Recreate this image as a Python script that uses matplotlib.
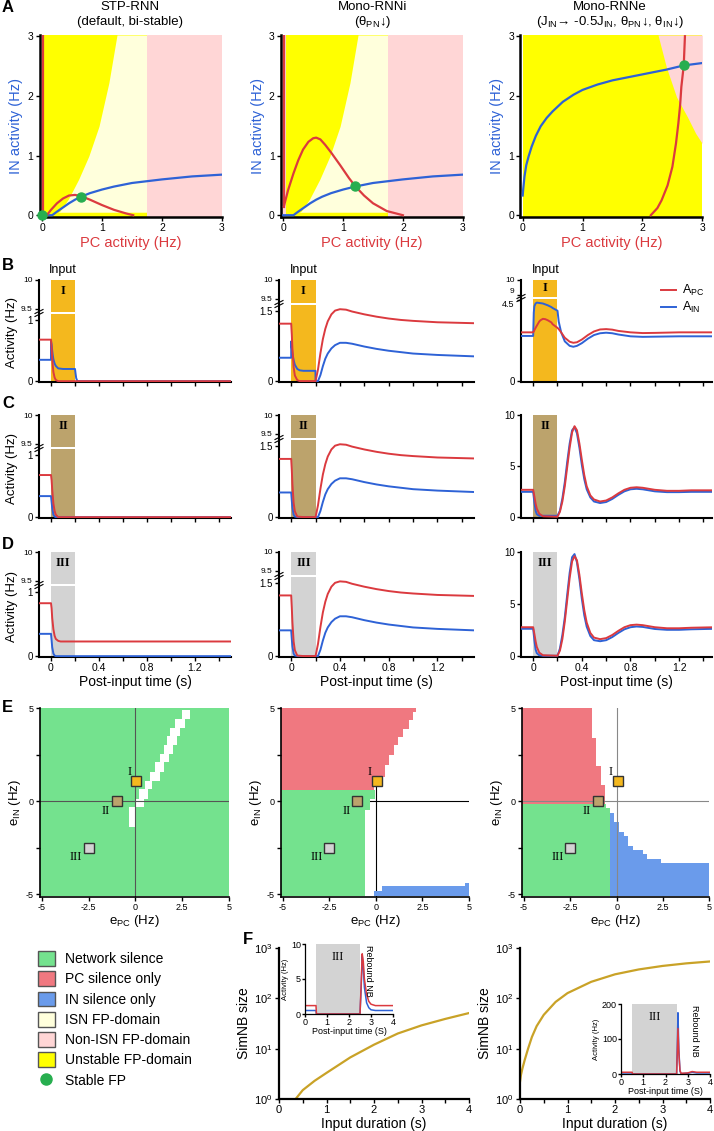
import numpy as np
import matplotlib
matplotlib.use('Agg')
import matplotlib.pyplot as plt
from matplotlib.patches import Patch
from matplotlib.lines import Line2D
import matplotlib.transforms as mtransforms
from matplotlib.ticker import NullLocator, FixedLocator

plt.rcParams['font.family'] = ['Liberation Sans', 'DejaVu Sans']
plt.rcParams['axes.unicode_minus'] = False
plt.rcParams['mathtext.fontset'] = 'custom'
plt.rcParams['mathtext.rm'] = 'Liberation Sans'
plt.rcParams['mathtext.it'] = 'Liberation Sans:italic'
plt.rcParams['mathtext.bf'] = 'Liberation Sans:bold'

# ---------------- colours ----------------
RED = '#DB3A3F'
BLUE = '#2E62D6'
DOT = '#27AE4F'
YELLOW = '#FFFF00'
LIGHT_Y = '#FFFFDC'
PINK = '#FFD6D6'
NET_SIL = '#74E28E'
PC_SIL = '#F07880'
IN_SIL = '#6A9BEB'
BAR_COLORS = ['#F4B81E', '#BCA36C', '#D3D3D3']
GOLD = '#C9A227'

# ---------------- data: panel A ----------------
titles_1 = ['STP-RNN', 'Mono-RNNi', 'Mono-RNNe']
titles_2 = ['(default, bi-stable)', '(θ$_{\\mathrm{PN}}$↓)',
            '(J$_{\\mathrm{IN}}$→ -0.5J$_{\\mathrm{IN}}$, θ$_{\\mathrm{PN}}$↓, θ$_{\\mathrm{IN}}$↓)']

# domain boundaries (columns 1 and 2)
unstable_bd_y = [0.05, 0.07, 0.27, 0.6, 0.99, 1.49, 2.22, 3.02]
unstable_bd_x = [0.27, 0.3, 0.44, 0.61, 0.78, 0.95, 1.115, 1.25]
isn_x_max = 1.745
strip_x = 0.04
# column 3 non-ISN boundary
nonisn3_bd_y = [3.02, 2.48, 1.98, 1.65, 1.37, 1.2]
nonisn3_bd_x = [2.26, 2.4, 2.57, 2.75, 2.89, 3.0]

# IN nullcline (cols 1,2)
in_null_x = [0.0, 0.17, 0.25, 0.35, 0.45, 0.55, 0.65, 0.8, 1.0, 1.2, 1.5, 2.0, 2.5, 3.0]
in_null_y = [0.0, 0.0, 0.06, 0.13, 0.2, 0.26, 0.31, 0.37, 0.43, 0.48, 0.54, 0.6, 0.65, 0.68]
# PC nullclines
a1_pc_x = [0.08, 0.15, 0.25, 0.35, 0.45, 0.55, 0.65, 0.8, 1.0, 1.2, 1.4, 1.52]
a1_pc_y = [0.0, 0.09, 0.2, 0.28, 0.33, 0.34, 0.32, 0.26, 0.17, 0.09, 0.03, 0.0]
a1_pcv_x = [0.02, 0.02]
a1_pcv_y = [0.0, 3.0]
a2_pc_x = [0.01, 0.08, 0.17, 0.25, 0.33, 0.42, 0.5, 0.55, 0.62, 0.7, 0.8, 0.95, 1.1, 1.2, 1.35, 1.5, 1.73, 2.0]
a2_pc_y = [0.15, 0.42, 0.7, 0.92, 1.1, 1.23, 1.29, 1.3, 1.27, 1.18, 1.05, 0.84, 0.62, 0.49, 0.33, 0.2, 0.07, 0.0]
a2_pcv_x = [0.005, 0.005]
a2_pcv_y = [0.13, 3.0]
a3_in_x = [0.0, 0.01, 0.03, 0.06, 0.1, 0.15, 0.22, 0.3, 0.4, 0.5, 0.67, 0.85, 1.0, 1.25, 1.5, 2.0, 2.4, 2.69, 3.0]
a3_in_y = [0.33, 0.45, 0.65, 0.84, 0.99, 1.15, 1.33, 1.49, 1.63, 1.74, 1.9, 2.02, 2.1, 2.19, 2.26, 2.36, 2.44, 2.51, 2.55]
a3_pc_x = [2.14, 2.25, 2.32, 2.42, 2.5, 2.56, 2.6, 2.63, 2.65, 2.69, 2.71]
a3_pc_y = [0.0, 0.12, 0.25, 0.5, 0.81, 1.2, 1.54, 1.85, 2.15, 2.51, 3.0]
fp1_x, fp1_y = [0.0, 0.65], [0.0, 0.31]
fp2_x, fp2_y = [1.2], [0.49]
fp3_x, fp3_y = [2.69], [2.51]

# ---------------- data: panels B-D ----------------
b1_t = [-0.1, 0.0, 0.0, 0.005, 0.01, 0.015, 0.02, 0.03, 0.04, 0.06, 0.1, 0.15, 0.2, 0.205, 0.21, 0.22, 0.3, 1.5]
b1_pc = [0.68, 0.68, 0.68, 0.55, 0.38, 0.25, 0.15, 0.06, 0.02, 0.0, 0, 0, 0, 0, 0, 0, 0, 0]
b1_in = [0.35, 0.35, 0.66, 0.6, 0.5, 0.42, 0.36, 0.29, 0.25, 0.21, 0.2, 0.2, 0.2, 0.12, 0.05, 0.0, 0, 0]
c1_t = [-0.1, 0.0, 0.005, 0.01, 0.02, 0.03, 0.04, 0.06, 1.5]
c1_pc = [0.68, 0.68, 0.6, 0.45, 0.22, 0.1, 0.04, 0.0, 0.0]
c1_in = [0.34, 0.34, 0.25, 0.15, 0.04, 0.01, 0.0, 0.0, 0.0]
d1_t = [-0.1, 0.0, 0.005, 0.01, 0.02, 0.03, 0.04, 0.06, 0.08, 0.1, 1.5]
d1_pc = [0.83, 0.83, 0.75, 0.6, 0.42, 0.32, 0.27, 0.24, 0.23, 0.23, 0.23]
d1_in = [0.35, 0.35, 0.25, 0.14, 0.04, 0.01, 0.0, 0.0, 0.0, 0.0, 0.0]

rebound2_t = [0.2, 0.22, 0.24, 0.26, 0.28, 0.3, 0.33, 0.36, 0.4, 0.45, 0.5, 0.6, 0.7, 0.8, 0.9, 1.0, 1.2, 1.5]
rebound2_pc = [0.0, 0.25, 0.6, 0.9, 1.12, 1.28, 1.43, 1.51, 1.54, 1.53, 1.49, 1.43, 1.38, 1.34, 1.31, 1.29, 1.26, 1.24]
rebound2_in = [0.0, 0.0, 0.13, 0.32, 0.48, 0.59, 0.7, 0.77, 0.82, 0.82, 0.8, 0.74, 0.69, 0.65, 0.62, 0.59, 0.56, 0.53]
b2_t = [-0.1, 0.0, 0.0, 0.005, 0.01, 0.02, 0.03, 0.05, 0.07, 0.1, 0.15, 0.199]
b2_pc = [1.23, 1.23, 1.23, 1.0, 0.7, 0.3, 0.12, 0.02, 0.0, 0.0, 0.0, 0.0]
b2_in = [0.5, 0.5, 0.85, 0.72, 0.6, 0.45, 0.35, 0.26, 0.23, 0.22, 0.22, 0.22]
c2_t = [-0.1, 0.0, 0.005, 0.01, 0.02, 0.03, 0.05, 0.1, 0.199]
c2_pc = [1.23, 1.23, 1.0, 0.7, 0.3, 0.12, 0.01, 0.0, 0.0]
c2_in = [0.52, 0.52, 0.35, 0.2, 0.05, 0.01, 0.0, 0.0, 0.0]
d2_t = [-0.1, 0.0, 0.005, 0.01, 0.02, 0.03, 0.05, 0.1, 0.199]
d2_pc = [1.25, 1.25, 1.0, 0.7, 0.3, 0.12, 0.01, 0.0, 0.0]
d2_in = [0.53, 0.53, 0.35, 0.2, 0.05, 0.01, 0.0, 0.0, 0.0]

b3_t = [-0.1, 0.0, 0.005, 0.01, 0.02, 0.03, 0.05, 0.06, 0.08, 0.1, 0.12, 0.15, 0.16, 0.2, 0.21, 0.23,
        0.26, 0.3, 0.33, 0.36, 0.4, 0.45, 0.5, 0.55, 0.6, 0.65, 0.7, 0.8, 0.9, 1.0, 1.2, 1.5]
b3_pc = [2.7, 2.7, 2.75, 2.82, 2.95, 3.07, 3.3, 3.37, 3.45, 3.43, 3.37, 3.25, 3.15, 2.95, 2.88, 2.7,
         2.4, 2.18, 2.12, 2.15, 2.3, 2.55, 2.75, 2.86, 2.88, 2.85, 2.78, 2.7, 2.66, 2.67, 2.7, 2.7]
b3_in = [2.5, 2.5, 3.8, 4.15, 4.3, 4.35, 4.33, 4.32, 4.3, 4.25, 4.2, 4.1, 4.05, 3.9, 3.3, 2.7,
         2.2, 1.95, 1.9, 1.95, 2.1, 2.35, 2.55, 2.65, 2.68, 2.65, 2.58, 2.48, 2.45, 2.46, 2.48, 2.48]
cd3_t = [-0.1, 0.0, 0.01, 0.02, 0.03, 0.05, 0.08, 0.2, 0.22, 0.24, 0.26, 0.28, 0.3, 0.32, 0.34, 0.36,
         0.38, 0.4, 0.42, 0.44, 0.47, 0.5, 0.55, 0.6, 0.65, 0.7, 0.75, 0.8, 0.85, 0.9, 0.95, 1.0, 1.1,
         1.2, 1.3, 1.5]
c3_pc = [2.65, 2.65, 2.0, 1.3, 0.8, 0.3, 0.05, 0.0, 0.5, 1.5, 3.0, 4.9, 6.8, 8.3, 8.9, 8.5, 7.2, 5.6,
         4.1, 3.0, 2.1, 1.7, 1.5, 1.6, 1.9, 2.3, 2.65, 2.85, 2.9, 2.85, 2.75, 2.65, 2.55, 2.55, 2.6, 2.6]
c3_in = [2.45, 2.45, 1.4, 0.6, 0.25, 0.1, 0.1, 0.1, 0.6, 1.8, 3.4, 5.4, 7.2, 8.5, 8.8, 8.2, 6.8, 5.1,
         3.7, 2.7, 1.9, 1.5, 1.35, 1.45, 1.75, 2.15, 2.5, 2.7, 2.75, 2.7, 2.6, 2.5, 2.42, 2.42, 2.45, 2.45]
d3_pc = [2.75, 2.75, 2.1, 1.4, 0.85, 0.3, 0.05, 0.0, 0.5, 1.6, 3.3, 5.4, 7.5, 9.1, 9.6, 9.2, 7.8, 6.0,
         4.4, 3.2, 2.2, 1.75, 1.6, 1.7, 2.0, 2.4, 2.75, 2.95, 3.0, 2.95, 2.85, 2.75, 2.65, 2.65, 2.7, 2.75]
d3_in = [2.6, 2.6, 1.5, 0.6, 0.25, 0.05, 0.0, 0.0, 0.7, 2.0, 3.7, 5.9, 8.0, 9.5, 9.8, 9.0, 7.4, 5.5,
         3.9, 2.8, 1.9, 1.5, 1.4, 1.5, 1.8, 2.2, 2.55, 2.75, 2.82, 2.78, 2.68, 2.58, 2.5, 2.5, 2.55, 2.6]

input_on, input_off = 0.0, 0.2
roman = ['I', 'II', 'III']

# ---------------- data: panel E ----------------
e1_band_edges = [4.9, 4.45, 3.95, 3.5, 3.0, 2.55, 2.1, 1.55, 1.1, 0.65, 0.1, -0.3, -0.9, -1.4]
e1_band_xlo = [2.5, 2.1, 1.85, 1.7, 1.5, 1.3, 1.05, 0.8, 0.5, 0.2, -0.05, -0.35, -0.35]
e1_band_xhi = [2.9, 2.65, 2.4, 2.2, 2.0, 1.8, 1.5, 1.3, 0.9, 0.67, 0.45, 0.05, 0.0]
e2_red_edges = [5.0, 4.8, 4.36, 3.9, 3.46, 3.0, 2.47, 1.93, 1.3, 0.85, 0.6]
e2_red_xr = [2.17, 2.0, 1.76, 1.44, 1.19, 0.95, 0.7, 0.46, 0.28, -0.08]
e2_green_edges = [0.6, 0.1, -0.5, -5.12]
e2_green_xr = [-0.05, -0.33, -0.6]
e2_blue_edges = [-4.4, -4.57, -4.85, -5.12]
e2_blue_xl = [4.8, 0.3, -0.12]
e3_red_edges = [5.0, 3.38, 1.87, 0.85, -0.14]
e3_red_xr = [-1.35, -1.12, -0.86, -0.63]
e3_green_edges = [-0.14, -0.36, -5.12]
e3_green_xr = [-0.58, -0.36]
e3_blue_xedges = [-0.36, -0.13, 0.14, 0.4, 0.63, 0.9, 1.4, 1.65, 2.4, 5.0]
e3_blue_top = [-0.63, -1.13, -1.64, -1.89, -2.39, -2.62, -2.87, -3.13, -3.33]
pert_x = [0.05, -1.0, -2.5]
pert_y = [1.1, 0.0, -2.5]

# ---------------- data: panel F ----------------
f1_dur = [0.35, 0.5, 0.75, 1.0, 1.5, 2.0, 2.5, 3.0, 3.5, 4.0]
f1_size = [1.0, 1.5, 2.3, 3.3, 6.7, 12, 20, 29, 39, 51]
f2_dur = [0.0, 0.02, 0.05, 0.1, 0.17, 0.25, 0.35, 0.5, 0.75, 1.0, 1.5, 2.0, 2.5, 3.0, 3.5, 4.0]
f2_size = [2.2, 3.0, 4.0, 6.0, 10, 17, 28, 47, 85, 127, 213, 300, 375, 440, 495, 540]
fi1_t = [0, 0.5, 0.52, 2.5, 2.55, 2.6, 2.65, 2.7, 2.8, 2.9, 3.0, 3.2, 4.0]
fi1_pc = [1.2, 1.2, 0.0, 0.0, 4.0, 8.6, 7.5, 5.0, 2.8, 1.8, 1.4, 1.2, 1.2]
fi1_in = [0.5, 0.5, 0.0, 0.0, 3.5, 8.3, 6.5, 3.8, 1.6, 0.9, 0.6, 0.5, 0.5]
fi2_t = [0, 0.5, 0.52, 2.5, 2.53, 2.56, 2.6, 2.65, 2.7, 3.0, 3.2, 3.4, 4.0]
fi2_pc = [5, 5, 0, 0, 60, 130, 60, 10, 2, 3, 7, 5, 5]
fi2_in = [3, 3, 0, 0, 80, 175, 70, 8, 1, 2, 5, 3, 3]
fi_input = (0.5, 2.5)

legend_labels = ['Network silence', 'PC silence only', 'IN silence only', 'ISN FP-domain',
                 'Non-ISN FP-domain', 'Unstable FP-domain', 'Stable FP']
legend_colors = [NET_SIL, PC_SIL, IN_SIL, LIGHT_Y, PINK, YELLOW, DOT]

# ---------------- figure ----------------
W, H = 714, 1131
fig = plt.figure(figsize=(W / 100, H / 100), dpi=100)


def add_ax(l, t, r, b):
    return fig.add_axes([l / W, 1 - b / H, (r - l) / W, (b - t) / H])


def fx(px):
    return px / W


def fy(py):
    return 1 - py / H


def style(ax, lw=1.5, labelsize=7):
    for s in ['top', 'right']:
        ax.spines[s].set_visible(False)
    for s in ['left', 'bottom']:
        ax.spines[s].set_linewidth(lw)
    ax.tick_params(which='both', width=1, length=3, labelsize=labelsize, pad=1.5)


# panel letters
for lab, x, y in [('A', 2, 8), ('B', 2, 265), ('C', 2, 403), ('D', 2, 545), ('E', 2, 708), ('F', 243, 940)]:
    fig.text(fx(x), fy(y), lab, fontsize=12, fontweight='bold', ha='left', va='center')

# ---------------- panel A ----------------
a_cols = [(39.6, 222.0), (280.9, 462.7), (520.3, 702.3)]
a_top, a_bot = 35, 217
title_cx = [130, 373, 610]
for ci in range(3):
    ax = add_ax(a_cols[ci][0], a_top, a_cols[ci][1], a_bot)
    ax.set_xlim(-0.04, 3.0)
    ax.set_ylim(-0.03, 3.02)
    if ci < 2:
        ax.fill_between([strip_x, isn_x_max], -0.03, 3.02, color=YELLOW, lw=0, zorder=0)
        ax.fill_betweenx(unstable_bd_y, unstable_bd_x, isn_x_max, color=LIGHT_Y, lw=0, zorder=0)
        ax.fill_between([isn_x_max, 3.0], -0.03, 3.02, color=PINK, lw=0, zorder=0)
        ax.fill_between([-0.04, strip_x], -0.03, 3.02, color=PINK, lw=0, zorder=0)
        ax.plot(in_null_x, in_null_y, color=BLUE, lw=1.6, zorder=3)
        if ci == 0:
            ax.plot(a1_pcv_x, a1_pcv_y, color=RED, lw=1.6, zorder=3)
            ax.plot(a1_pc_x, a1_pc_y, color=RED, lw=1.6, zorder=3)
            ax.plot(fp1_x, fp1_y, 'o', color=DOT, ms=6.5, zorder=4, clip_on=False)
        else:
            ax.plot(a2_pcv_x, a2_pcv_y, color=RED, lw=1.6, zorder=3)
            ax.plot(a2_pc_x, a2_pc_y, color=RED, lw=1.6, zorder=3)
            ax.plot(fp2_x, fp2_y, 'o', color=DOT, ms=6.5, zorder=4)
    else:
        ax.fill_between([0.0, 3.0], -0.03, 3.02, color=YELLOW, lw=0, zorder=0)
        ax.fill_betweenx(nonisn3_bd_y, nonisn3_bd_x, 3.0, color=PINK, lw=0, zorder=0)
        ax.plot(a3_in_x, a3_in_y, color=BLUE, lw=1.6, zorder=3)
        ax.plot(a3_pc_x, a3_pc_y, color=RED, lw=1.6, zorder=3)
        ax.plot(fp3_x, fp3_y, 'o', color=DOT, ms=6.5, zorder=4)
    style(ax, lw=1.8, labelsize=7.5)
    ax.set_xticks([0, 1, 2, 3])
    ax.set_yticks([0, 1, 2, 3])
    ax.set_xlabel('PC activity (Hz)', color=RED, fontsize=10.5, labelpad=2)
    ax.set_ylabel('IN activity (Hz)', color=BLUE, fontsize=10.5, labelpad=3)
    fig.text(fx(title_cx[ci]), fy(7), titles_1[ci], fontsize=9.5, ha='center', va='center')
    fig.text(fx(title_cx[ci]), fy(22), titles_2[ci], fontsize=9.5, ha='center', va='center')

# ---------------- panels B-D ----------------
t_cols = [(39, 231, 1.5), (279, 474, 1.5), (521, 712, 1.47)]
t_rows = [(280, 382), (415, 518), (552, 657)]
col_cfg = [
    dict(top_h=32, top_ylim=(9.44, 10), top_ticks=[9.5, 10], bot_ylim=1.1, bot_ticks=[0, 1]),
    dict(top_h=23, top_ylim=(9.38, 10), top_ticks=[9.5, 10], bot_ylim=1.63, bot_ticks=[0, 1.5]),
]
cfg3b = dict(top_h=17, top_ylim=(8.87, 10), top_ticks=[9, 10], bot_ylim=4.55, bot_ticks=[0, 4.5])

traces = [
    [(b1_t, b1_pc, b1_in), (c1_t, c1_pc, c1_in), (d1_t, d1_pc, d1_in)],
    [(b2_t + rebound2_t, b2_pc + rebound2_pc, b2_in + rebound2_in),
     (c2_t + rebound2_t, c2_pc + rebound2_pc, c2_in + rebound2_in),
     (d2_t + rebound2_t, d2_pc + rebound2_pc, d2_in + rebound2_in)],
    [(b3_t, b3_pc, b3_in), (cd3_t, c3_pc, c3_in), (cd3_t, d3_pc, d3_in)],
]


def fmt(v):
    return '%g' % v


for ci in range(3):
    l, r, xmax = t_cols[ci]
    for ri in range(3):
        top, bot = t_rows[ri]
        t, pc, inn = traces[ci][ri]
        if ci < 2 or ri == 0:
            cfg = col_cfg[ci] if ci < 2 else cfg3b
            axt = add_ax(l, top, r, top + cfg['top_h'])
            axb = add_ax(l, top + cfg['top_h'] + 2, r, bot)
            axt.set_xlim(-0.1, xmax)
            axt.set_ylim(*cfg['top_ylim'])
            axt.axvspan(input_on, input_off, color=BAR_COLORS[ri], lw=0, zorder=0)
            style(axt, labelsize=6)
            axt.spines['bottom'].set_visible(False)
            axt.set_xticks([])
            axt.set_yticks(cfg['top_ticks'])
            axt.set_yticklabels([fmt(v) for v in cfg['top_ticks']])
            ymax = cfg['bot_ylim']
            yt = cfg['bot_ticks']
            # break marks on the spine
            yb = top + cfg['top_h'] + 1
            for d in (-1.5, 1.5):
                fig.add_artist(Line2D([fx(l - 4), fx(l + 4)], [fy(yb + d + 2), fy(yb + d - 2)],
                                      color='black', lw=0.8))
        else:
            axt = None
            axb = add_ax(l, top, r, bot)
            ymax = 10.0
            yt = [0, 5, 10]
        axb.set_xlim(-0.1, xmax)
        axb.set_ylim(-0.012 * ymax, ymax)
        axb.axvspan(input_on, input_off, color=BAR_COLORS[ri], lw=0, zorder=0)
        axb.plot(t, inn, color=BLUE, lw=1.4, zorder=3)
        axb.plot(t, pc, color=RED, lw=1.4, zorder=3)
        style(axb, labelsize=7)
        axb.set_yticks(yt)
        axb.set_yticklabels([fmt(v) for v in yt])
        if ci == 2 and ri == 0:
            # keep the two labels at the break apart
            axt.get_yticklabels()[0].set_verticalalignment('bottom')
            axb.get_yticklabels()[-1].set_verticalalignment('top')
            axb.get_yticklabels()[-1].set_fontsize(6.5)
        axb.xaxis.set_major_locator(FixedLocator([0, 0.4, 0.8, 1.2]))
        axb.xaxis.set_minor_locator(FixedLocator([0.2, 0.6, 1.0, 1.4]))
        if ri == 2:
            axb.set_xticklabels(['0', '0.4', '0.8', '1.2'], fontsize=7.5)
            axb.set_xlabel('Post-input time (s)', fontsize=10, labelpad=1)
        else:
            axb.set_xticklabels([])
        # roman label in input bar
        trans = mtransforms.blended_transform_factory(axb.transData, fig.transFigure)
        fig.text((input_on + input_off) / 2, fy(top + (8 if (ci == 2 and ri == 0) else 11)), roman[ri],
                 transform=trans, ha='center', va='center', fontsize=9, fontweight='bold',
                 family='Liberation Serif')
        if ri == 0:
            fig.text((input_on + input_off) / 2, fy(270), 'Input', transform=trans,
                     ha='center', va='center', fontsize=9)
        if ci == 0:
            fig.text(fx(12), fy((top + bot) / 2 + 2), 'Activity (Hz)', rotation=90,
                     ha='center', va='center', fontsize=9.5)

fig.legend([Line2D([], [], color=RED, lw=1.4), Line2D([], [], color=BLUE, lw=1.4)],
           ['A$_{\\mathrm{PC}}$', 'A$_{\\mathrm{IN}}$'], loc='upper left',
           bbox_to_anchor=(fx(661), fy(283)), frameon=False, fontsize=9, handlelength=1.2,
           handletextpad=0.5, labelspacing=0.15, borderpad=0, borderaxespad=0)

# ---------------- panel E ----------------
e_cols = [(40.1, 229.0), (281.1, 469.0), (522.1, 709.3)]
e_top, e_bot = 708.3, 896.8
marker_offsets = [(-5, 6), (-8, -7), (-9, -6.5)]


def barh_rows(ax, edges, xl, xr, color):
    edges = np.asarray(edges, float)
    y_c = (edges[:-1] + edges[1:]) / 2
    h = np.abs(np.diff(edges))
    xl = np.asarray(xl, float) * np.ones(len(y_c))
    xr = np.asarray(xr, float) * np.ones(len(y_c))
    ax.barh(y_c, xr - xl, left=xl, height=h, color=color, lw=0, zorder=1)


for ci in range(3):
    ax = add_ax(e_cols[ci][0], e_top, e_cols[ci][1], e_bot)
    ax.set_xlim(-5.1, 5.0)
    ax.set_ylim(-5.15, 5.0)
    if ci == 0:
        ax.fill_between([-5.12, 5.0], -5.12, 5.0, color=NET_SIL, lw=0, zorder=0)
        barh_rows(ax, e1_band_edges, e1_band_xlo, e1_band_xhi, 'white')
        lc, lz = '#555555', 2
    elif ci == 1:
        barh_rows(ax, e2_red_edges, -5.12, e2_red_xr, PC_SIL)
        barh_rows(ax, e2_green_edges, -5.12, e2_green_xr, NET_SIL)
        barh_rows(ax, e2_blue_edges, e2_blue_xl, 5.0, IN_SIL)
        lc, lz = 'black', 0.5
    else:
        barh_rows(ax, e3_red_edges, -5.12, e3_red_xr, PC_SIL)
        barh_rows(ax, e3_green_edges, -5.12, e3_green_xr, NET_SIL)
        xe = np.asarray(e3_blue_xedges)
        ax.bar((xe[:-1] + xe[1:]) / 2, np.asarray(e3_blue_top) + 5.12, bottom=-5.12,
               width=np.diff(xe), color=IN_SIL, lw=0, zorder=1)
        lc, lz = '#888888', 2
    ax.axvline(0, color=lc, lw=0.8, zorder=lz)
    ax.axhline(0, color=lc, lw=0.8, zorder=lz)
    for k in range(3):
        ax.plot([pert_x[k]], [pert_y[k]], 's', ms=7, mfc=BAR_COLORS[k], mec='#333333', mew=1, zorder=4)
        ax.annotate(roman[k], (pert_x[k], pert_y[k]), xytext=marker_offsets[k], textcoords='offset points',
                    ha='center', va='center', fontsize=9, family='Liberation Serif', zorder=5)
    style(ax, lw=1.2, labelsize=6.5)
    ax.set_xticks([-5, -2.5, 0, 2.5, 5])
    ax.set_xticklabels(['-5', '-2.5', '0', '2.5', '5'])
    ax.set_yticks([-5, 0, 5])
    ax.set_yticklabels(['-5', '0', '5'])
    ax.yaxis.set_minor_locator(FixedLocator([-2.5, 2.5]))
    ax.set_xlabel('e$_{\\mathrm{PC}}$ (Hz)', fontsize=9.5, labelpad=1)
    ax.set_ylabel('e$_{\\mathrm{IN}}$ (Hz)', fontsize=9.5, labelpad=2)

# ---------------- legend ----------------
handles = [Patch(facecolor=c, edgecolor='#555555', lw=1) for c in legend_colors[:6]]
handles.append(Line2D([], [], marker='o', color='none', mfc=DOT, mec=DOT, ms=8))
fig.legend(handles, legend_labels, loc='upper left', bbox_to_anchor=(fx(38), fy(951)), frameon=False,
           fontsize=10, handlelength=1.2, handleheight=1.25, labelspacing=0.38, handletextpad=0.75,
           borderpad=0, borderaxespad=0)

# ---------------- panel F ----------------
f_cols = [(279, 469), (520, 710)]
f_data = [(f1_dur, f1_size), (f2_dur, f2_size)]
for ci in range(2):
    ax = add_ax(f_cols[ci][0], 948, f_cols[ci][1], 1099)
    ax.set_yscale('log')
    ax.set_xlim(0, 4)
    ax.set_ylim(1, 1000)
    ax.plot(f_data[ci][0], f_data[ci][1], color=GOLD, lw=1.6)
    style(ax, lw=1.6, labelsize=8)
    ax.set_xticks([0, 1, 2, 3, 4])
    ax.xaxis.set_minor_locator(FixedLocator([0.5, 1.5, 2.5, 3.5]))
    ax.yaxis.set_minor_locator(NullLocator())
    ax.set_yticks([1, 10, 100, 1000])
    ax.set_xlabel('Input duration (s)', fontsize=10, labelpad=1)
    ax.set_ylabel('SimNB size', fontsize=10, labelpad=2)

insets = [((305, 944, 393, 1014), fi1_t, fi1_pc, fi1_in, 10, [0, 5, 10], 2.9),
          ((621, 1004, 710, 1074), fi2_t, fi2_pc, fi2_in, 200, [0, 100, 200], 3.3)]
for rect, t, pc, inn, ymax, yt, xtxt in insets:
    ax = add_ax(*rect)
    ax.set_xlim(0, 4)
    ax.set_ylim(0, ymax)
    ax.axvspan(fi_input[0], fi_input[1], color=BAR_COLORS[2], lw=0, zorder=0)
    ax.plot(t, inn, color=BLUE, lw=1.1)
    ax.plot(t, pc, color=RED, lw=1.1)
    style(ax, lw=0.9, labelsize=6.5)
    ax.tick_params(length=2, pad=1)
    ax.set_xticks([0, 1, 2, 3, 4])
    ax.set_yticks(yt)
    ax.set_xlabel('Post-input time (S)', fontsize=6.5, labelpad=0)
    ax.set_ylabel('Activity (Hz)', fontsize=5.5, labelpad=1)
    ax.text(sum(fi_input) / 2, ymax * 0.82, 'III', ha='center', va='center', fontsize=9,
            family='Liberation Serif')
    ax.text(xtxt, ymax * 0.98, 'Rebound NB', rotation=-90, ha='center', va='top', fontsize=6.5)

fig.savefig('out.png', dpi=100)
